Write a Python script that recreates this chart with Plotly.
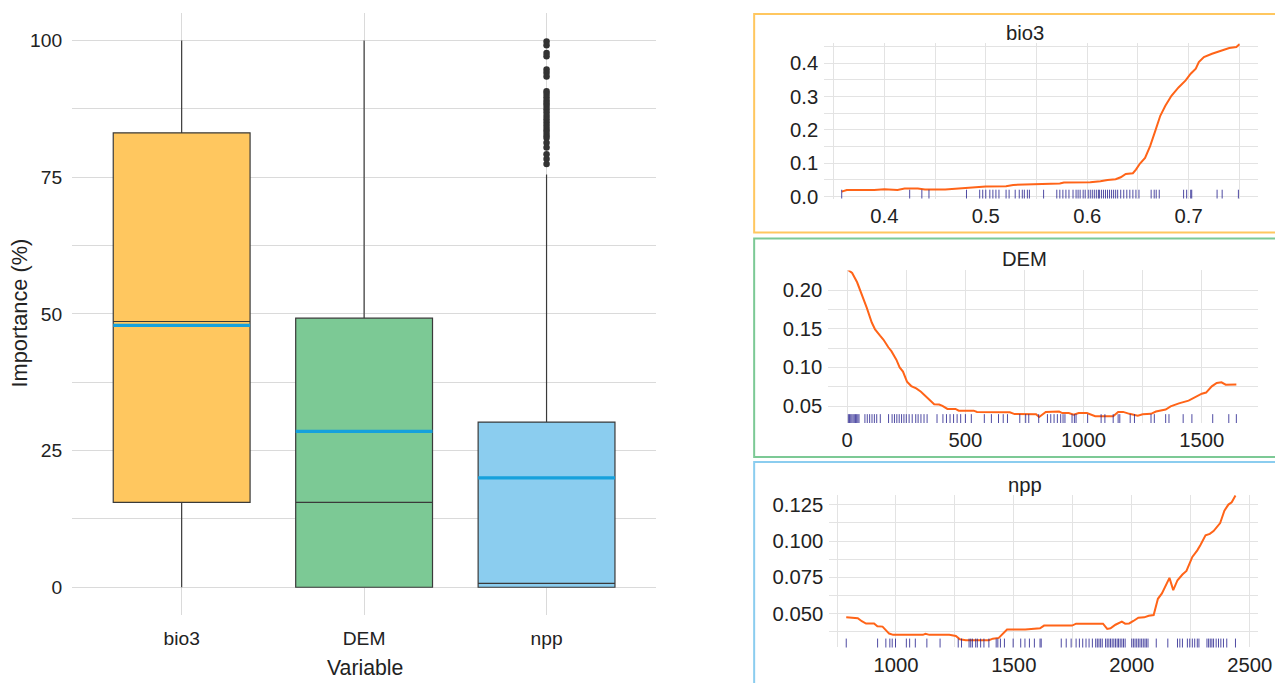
import plotly.graph_objects as go

# The captured picture is the page scaled by S (1283/1299), and the page body keeps
# its default 8px margin.  Positions below are given in picture pixels and converted.
S = 1283 / 1299
OFF = 8
W = 1283                     # figure width  (page 1299 wide incl. margins)
H = 675                      # figure height (page ~691 tall incl. margins)
FONT = "Liberation Sans, Arial, sans-serif"

# ---------------- box plot data ----------------
variables = ["bio3", "DEM", "npp"]
box_fill = ["#FFC75F", "#7CC995", "#8BCDEF"]
q1 = [15.5, 0.0, 0.0]
median = [48.6, 15.5, 0.7]
q3 = [83.1, 49.2, 30.2]
lower = [0.0, 0.0, 0.0]
upper = [100.0, 100.0, 75.5]
mean = [47.9, 28.5, 20.0]
npp_outliers = [99.8, 99.1, 97.7, 97.1, 94.7, 94.1, 93.4, 90.7, 90.2, 89.6, 89.0,
                88.5, 88.0, 87.4, 86.8, 86.2, 85.6, 85.0, 84.4, 83.8, 83.3, 82.7,
                82.2, 81.3, 80.4, 79.2, 78.3, 77.4]

# ---------------- partial dependence: bio3 ----------------
bio3_x = [0.358, 0.363, 0.39, 0.40, 0.413, 0.42, 0.433, 0.44, 0.46, 0.48, 0.50, 0.52,
          0.527, 0.547, 0.573, 0.577, 0.603, 0.613, 0.62, 0.628, 0.633, 0.638, 0.645,
          0.648, 0.652, 0.657, 0.662, 0.667, 0.672, 0.677, 0.683, 0.69, 0.697, 0.702,
          0.707, 0.71, 0.715, 0.723, 0.733, 0.74, 0.747, 0.75]
bio3_y = [0.015, 0.020, 0.020, 0.022, 0.020, 0.024, 0.024, 0.021, 0.021, 0.026, 0.030,
          0.031, 0.035, 0.037, 0.039, 0.042, 0.043, 0.046, 0.050, 0.052, 0.058, 0.068,
          0.070, 0.081, 0.099, 0.116, 0.151, 0.196, 0.242, 0.272, 0.302, 0.327, 0.348,
          0.368, 0.383, 0.403, 0.418, 0.428, 0.438, 0.445, 0.448, 0.456]
bio3_rug = [0.358, 0.425, 0.437, 0.444, 0.481, 0.494, 0.497, 0.500, 0.504, 0.507, 0.510,
            0.513, 0.520, 0.523, 0.529, 0.533, 0.536, 0.538, 0.541, 0.543, 0.557, 0.570,
            0.573, 0.576, 0.579, 0.582, 0.586, 0.589, 0.591, 0.593, 0.596, 0.598, 0.601,
            0.603, 0.605, 0.607, 0.609, 0.611, 0.612, 0.614, 0.616, 0.618, 0.620, 0.622,
            0.624, 0.626, 0.628, 0.630, 0.633, 0.636, 0.639, 0.642, 0.645, 0.648, 0.651,
            0.663, 0.666, 0.668, 0.671, 0.695, 0.698, 0.702, 0.703, 0.728, 0.733, 0.749]

# ---------------- partial dependence: DEM ----------------
dem_x = [4, 21, 42, 62, 83, 104, 118, 139, 153, 174, 187, 208, 222, 236, 253, 271, 292,
         312, 333, 354, 368, 389, 403, 424, 458, 472, 535, 549, 688, 708, 799, 812, 840,
         896, 910, 937, 958, 979, 1014, 1049, 1125, 1146, 1167, 1194, 1229, 1250, 1285,
         1306, 1347, 1368, 1403, 1444, 1472, 1500, 1518, 1542, 1563, 1583, 1601, 1646]
dem_y = [0.226, 0.222, 0.210, 0.195, 0.177, 0.158, 0.149, 0.141, 0.136, 0.126, 0.121,
         0.110, 0.100, 0.0946, 0.0815, 0.0759, 0.0728, 0.0685, 0.0628, 0.0567, 0.0524,
         0.052, 0.0502, 0.0463, 0.0463, 0.0441, 0.0441, 0.0424, 0.0419, 0.0397, 0.0395,
         0.036, 0.0425, 0.043, 0.041, 0.041, 0.039, 0.041, 0.041, 0.037, 0.037, 0.0425,
         0.0425, 0.040, 0.0377, 0.0395, 0.040, 0.043, 0.0456, 0.0496, 0.0535, 0.057,
         0.062, 0.066, 0.0675, 0.0755, 0.080, 0.0807, 0.0776, 0.078]
dem_rug = [5, 10, 15, 20, 25, 30, 35, 40, 45, 50, 75, 85, 95, 105, 115, 125, 140, 175,
           190, 200, 210, 220, 230, 240, 250, 262, 275, 290, 300, 312, 325, 338, 380,
           405, 420, 435, 450, 465, 480, 500, 525, 580, 610, 640, 660, 678, 730, 755,
           768, 810, 847, 861, 875, 889, 903, 913, 921, 951, 961, 968, 1017, 1074, 1090,
           1125, 1146, 1153, 1197, 1215, 1285, 1299, 1347, 1361, 1421, 1458, 1546, 1614,
           1646]

# ---------------- partial dependence: npp ----------------
npp_x = [789, 813, 838, 855, 873, 907, 921, 943, 957, 971, 988, 1114, 1125, 1142, 1226,
         1254, 1271, 1296, 1394, 1411, 1436, 1453, 1471, 1548, 1611, 1628, 1747, 1764,
         1878, 1896, 1910, 1931, 1958, 1972, 1989, 2007, 2028, 2053, 2072, 2093, 2111,
         2128, 2160, 2176, 2194, 2215, 2232, 2257, 2278, 2292, 2313, 2331, 2347, 2375,
         2393, 2410, 2424, 2440]
npp_y = [0.0475, 0.047, 0.0468, 0.0447, 0.0431, 0.0431, 0.0412, 0.041, 0.0385, 0.0362,
         0.0353, 0.0353, 0.036, 0.0353, 0.0353, 0.0346, 0.0323, 0.0316, 0.0316, 0.0327,
         0.0332, 0.0362, 0.039, 0.039, 0.0398, 0.0417, 0.0417, 0.043, 0.043, 0.0394,
         0.0398, 0.0423, 0.0444, 0.043, 0.0432, 0.0449, 0.0472, 0.0474, 0.0485, 0.049,
         0.0602, 0.0639, 0.0746, 0.0662, 0.073, 0.0769, 0.0794, 0.0891, 0.0936, 0.0975,
         0.104, 0.105, 0.1069, 0.1124, 0.121, 0.1252, 0.1268, 0.1314]
npp_rug = [789, 922, 957, 974, 984, 998, 1044, 1058, 1082, 1131, 1187, 1264, 1278, 1310,
           1317, 1324, 1338, 1345, 1359, 1373, 1394, 1425, 1432, 1443, 1460, 1497, 1529,
           1547, 1566, 1587, 1611, 1616, 1701, 1722, 1743, 1764, 1778, 1792, 1806, 1819,
           1833, 1847, 1854, 1861, 1868, 1875, 1889, 1896, 1903, 1910, 1917, 1924, 1931,
           1938, 1944, 1951, 1958, 1965, 1972, 2000, 2007, 2014, 2021, 2028, 2035, 2042,
           2049, 2056, 2062, 2069, 2104, 2153, 2194, 2204, 2215, 2236, 2246, 2257, 2267,
           2278, 2285, 2319, 2326, 2333, 2340, 2347, 2358, 2368, 2378, 2389, 2403, 2440]

# ---------------- layout helpers (picture pixel -> paper fraction) ----------------
def px(a):
    return (a / S - OFF) / W

def py(b):
    return 1 - (b / S - OFF) / H

def dom_x(a, b):
    return [px(a), px(b)]

def dom_y(top, bottom):
    return [py(bottom), py(top)]

def fs(size):
    return size / S

fig = go.Figure()

BOX_W = 0.75
for i, v in enumerate(variables):
    pos = i + 1
    fig.add_trace(go.Box(
        x=[pos], q1=[q1[i]], median=[median[i]], q3=[q3[i]],
        lowerfence=[lower[i]], upperfence=[upper[i]],
        fillcolor=box_fill[i], line=dict(color="#3a3a3a", width=1.2),
        width=BOX_W, whiskerwidth=0, boxpoints=False, showlegend=False,
        hoverinfo="skip", xaxis="x", yaxis="y"))
    fig.add_trace(go.Scatter(
        x=[pos - BOX_W / 2, pos + BOX_W / 2], y=[mean[i], mean[i]], mode="lines",
        line=dict(color="#16A1DC", width=3.2), showlegend=False, hoverinfo="skip",
        xaxis="x", yaxis="y"))

fig.add_trace(go.Scatter(
    x=[3] * len(npp_outliers), y=npp_outliers, mode="markers",
    marker=dict(color="#333333", size=6.5), showlegend=False, xaxis="x", yaxis="y"))

panels = [
    dict(name="bio3", x=bio3_x, y=bio3_y, rug=bio3_rug, ax="2",
         xdom=(823, 1256), ydom=(42, 198), xr=[0.3408, 0.7682], yr=[-0.006, 0.46],
         xt=dict(tick0=0.4, dtick=0.1, tickformat=".1f"), xminor=0.05,
         yt=dict(tick0=0, dtick=0.1, tickformat=".1f"), yminor=0.05,
         border=(753, 13, 1281, 232), bcolor="#FFC75F", title_y=32),
    dict(name="DEM", x=dem_x, y=dem_y, rug=dem_rug, ax="3",
         xdom=(827, 1256), ydom=(270, 423), xr=[-80, 1737], yr=[0.0281, 0.2253],
         xt=dict(tick0=0, dtick=500), xminor=250,
         yt=dict(tick0=0, dtick=0.05, tickformat=".2f"), yminor=0.025,
         border=(753, 238, 1281, 457), bcolor="#7CC995", title_y=259),
    dict(name="npp", x=npp_x, y=npp_y, rug=npp_rug, ax="4",
         xdom=(828, 1256), ydom=(495, 648), xr=[717, 2535], yr=[0.0266, 0.1319],
         xt=dict(tick0=0, dtick=500), xminor=250,
         yt=dict(tick0=0, dtick=0.025, tickformat=".3f"), yminor=0.0125,
         border=(753, 462, 1281, 700), bcolor="#8BCDEF", title_y=485),
]

shapes = []
annotations = []
layout_axes = {}
for p in panels:
    xa, ya = "x" + p["ax"], "y" + p["ax"]
    fig.add_trace(go.Scatter(
        x=p["x"], y=p["y"], mode="lines", line=dict(color="#FF6418", width=2),
        showlegend=False, xaxis=xa, yaxis=ya))
    ph = p["ydom"][1] - p["ydom"][0]
    rug_y = p["yr"][0] + (p["yr"][1] - p["yr"][0]) * 4.0 / ph
    fig.add_trace(go.Scatter(
        x=p["rug"], y=[rug_y] * len(p["rug"]), mode="markers",
        marker=dict(symbol="line-ns", size=7,
                    line=dict(width=1, color="rgba(35,30,140,0.8)")),
        showlegend=False, xaxis=xa, yaxis=ya))
    layout_axes["xaxis" + p["ax"]] = dict(
        domain=dom_x(*p["xdom"]), range=p["xr"], anchor=ya, tickmode="linear",
        **p["xt"], showgrid=True, gridcolor="#E3E3E3", gridwidth=1,
        minor=dict(dtick=p["xminor"], showgrid=True, gridcolor="#E3E3E3"),
        zeroline=False, showline=False, ticks="", ticklabelstandoff=3,
        tickfont=dict(size=fs(20), color="#222222", family=FONT))
    layout_axes["yaxis" + p["ax"]] = dict(
        domain=dom_y(*p["ydom"]), range=p["yr"], anchor=xa, tickmode="linear",
        **p["yt"], showgrid=True, gridcolor="#E3E3E3", gridwidth=1,
        minor=dict(dtick=p["yminor"], showgrid=True, gridcolor="#E3E3E3"),
        zeroline=False, showline=False, ticks="", ticklabelstandoff=5,
        tickfont=dict(size=fs(20), color="#222222", family=FONT))
    bx0, by0, bx1, by1 = p["border"]
    shapes.append(dict(type="rect", xref="paper", yref="paper",
                       x0=px(bx0), x1=px(bx1), y0=py(by1), y1=py(by0),
                       line=dict(color=p["bcolor"], width=2), fillcolor="rgba(0,0,0,0)"))
    annotations.append(dict(text=p["name"], xref="paper", yref="paper",
                            x=px(1023), y=py(p["title_y"]), showarrow=False,
                            xanchor="center", yanchor="middle",
                            font=dict(size=fs(20), color="#222222", family=FONT)))

annotations.append(dict(text="Importance (%)", xref="paper", yref="paper",
                        x=px(19), y=py(313), textangle=-90, showarrow=False,
                        xanchor="center", yanchor="middle",
                        font=dict(size=fs(21.5), color="#222222", family=FONT)))
annotations.append(dict(text="Variable", xref="paper", yref="paper",
                        x=px(364), y=py(669), showarrow=False,
                        xanchor="center", yanchor="middle",
                        font=dict(size=fs(21), color="#222222", family=FONT)))

fig.update_layout(
    width=W, height=H, margin=dict(l=0, r=0, t=0, b=0),
    paper_bgcolor="white", plot_bgcolor="white", showlegend=False,
    font=dict(family=FONT, color="#222222"),
    xaxis=dict(domain=dom_x(72, 655), range=[0.4, 3.6], tickmode="array",
               tickvals=[1, 2, 3], ticktext=variables, showgrid=True,
               gridcolor="#DADADA", zeroline=False, showline=False, ticks="",
               ticklabelstandoff=10,
               tickfont=dict(size=fs(19), color="#222222", family=FONT), anchor="y"),
    yaxis=dict(domain=dom_y(12, 615), range=[-5, 105], tickmode="array",
               tickvals=[0, 25, 50, 75, 100], showgrid=True, gridcolor="#DADADA",
               minor=dict(tickvals=[12.5, 37.5, 62.5, 87.5], showgrid=True,
                          gridcolor="#DADADA"),
               zeroline=False, showline=False, ticks="", ticklabelstandoff=9,
               tickfont=dict(size=fs(19), color="#222222", family=FONT), anchor="x"),
    shapes=shapes, annotations=annotations, **layout_axes)

fig.write_html("out.html", config={"displayModeBar": False})
